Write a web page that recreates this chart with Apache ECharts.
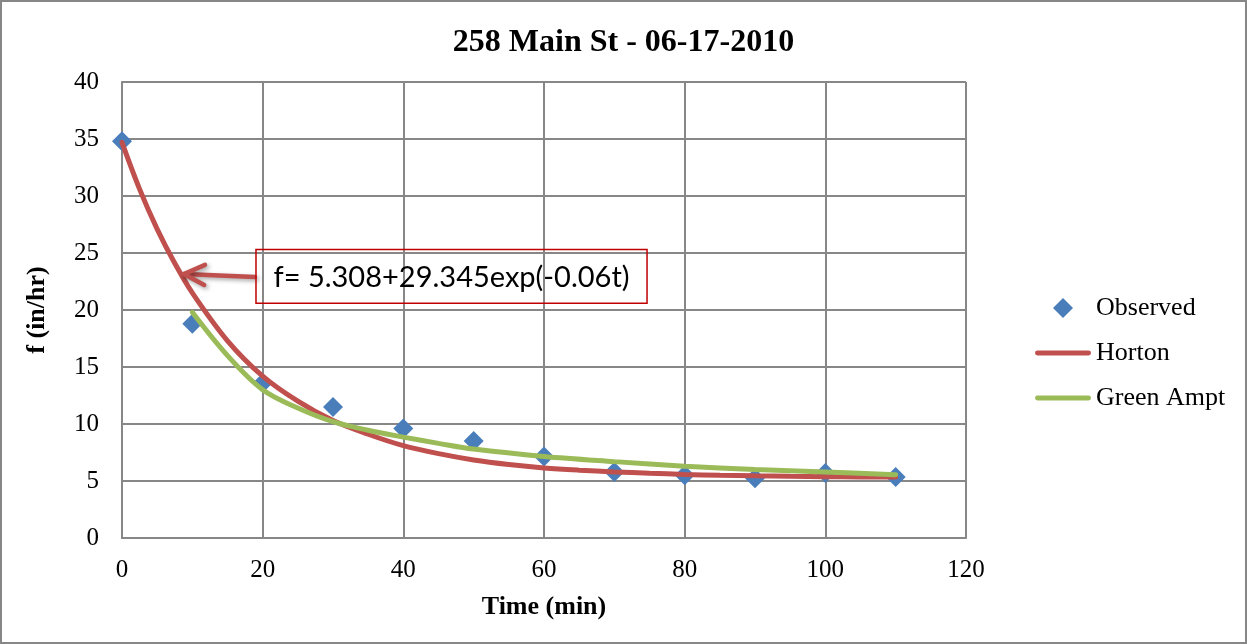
<!DOCTYPE html>
<html>
<head>
<meta charset="utf-8">
<script src="https://cdn.jsdelivr.net/npm/echarts@6/dist/echarts.min.js"></script>
<style>
  html, body { margin: 0; padding: 0; background: #fff; }
  #chart { width: 1247px; height: 644px; }
</style>
</head>
<body>
<div id="chart"></div>
<script>
// ---- data ----
const titleText = '258 Main St - 06-17-2010';
const xName = 'Time (min)';
const yName = 'f (in/hr)';
const seriesNames = ['Observed', 'Horton', 'Green Ampt'];

const observedT = [0, 10, 20, 30, 40, 50, 60, 70, 80, 90, 100, 110];
const observedF = [34.8, 18.8, 13.6, 11.5, 9.6, 8.5, 7.15, 5.8, 5.5, 5.25, 5.7, 5.35];

const hortonT = [0, 2.5, 5, 7.5, 10, 15, 20, 25, 30, 35, 40, 45, 50, 55, 60, 65, 70, 75, 80, 85, 90, 95, 100, 105, 110];
const hortonF = [34.7, 30.6, 27.1, 24.1, 21.5, 17.3, 14.2, 12.0, 10.3, 9.1, 8.1, 7.4, 6.85, 6.45, 6.15, 5.95, 5.8, 5.68, 5.58, 5.5, 5.45, 5.41, 5.38, 5.36, 5.34];

const greenT = [10, 15, 20, 25, 30, 35, 40, 45, 50, 60, 70, 80, 90, 100, 110];
const greenF = [19.8, 16.0, 13.0, 11.4, 10.2, 9.45, 8.85, 8.3, 7.8, 7.15, 6.7, 6.3, 6.0, 5.8, 5.55];

const xMin = 0, xMax = 120, xStep = 20;
const yMin = 0, yMax = 40, yStep = 5;

const annoText = 'f= 5.308+29.345exp(-0.06t)';
const annoTip = [8.8, 23.15];
const annoTail = [18.9, 22.9];
const annoBoxTL = [19.05, 25.3];
const annoBoxBR = [74.65, 20.6];

const zip = (a, b) => a.map((v, i) => [v, b[i]]);

// ---- chart ----
const serif = "'Liberation Serif', 'Times New Roman', serif";
const gridColor = '#878787';
const blue = '#4A7EBB', red = '#C0504D', green = '#9BBB59';
const lineIcon = 'path://M2,0 h52 a2.5,2.5 0 0 1 0,5 h-52 a2.5,2.5 0 0 1 0,-5 z';
const diamondIcon = 'path://M9,0 L18,9 L9,18 L0,9 Z';
const chart = echarts.init(document.getElementById('chart'), null, { renderer: 'canvas' });

const option = {
  backgroundColor: '#ffffff',
  animation: false,
  title: {
    text: titleText,
    left: 'center',
    top: 22,
    textStyle: { fontFamily: serif, fontWeight: 'bold', fontSize: 32, color: '#000' }
  },
  grid: { left: 122, top: 82, width: 844, height: 456, containLabel: false },
  legend: {
    orient: 'vertical',
    left: 1030,
    top: 290,
    itemWidth: 56,
    itemHeight: 20,
    itemGap: 19,
    textStyle: { fontFamily: serif, fontSize: 26, color: '#000' },
    data: [
      { name: seriesNames[0], icon: diamondIcon, itemStyle: { color: blue } },
      { name: seriesNames[1], icon: lineIcon, itemStyle: { color: red } },
      { name: seriesNames[2], icon: lineIcon, itemStyle: { color: green } }
    ]
  },
  xAxis: {
    type: 'value',
    min: xMin, max: xMax, interval: xStep,
    name: xName,
    nameLocation: 'middle',
    nameGap: 56,
    nameTextStyle: { fontFamily: serif, fontWeight: 'bold', fontSize: 26, color: '#000' },
    axisLine: { show: true, lineStyle: { color: gridColor, width: 2 } },
    axisTick: { show: false },
    axisLabel: { fontFamily: serif, fontSize: 25, color: '#000', margin: 20 },
    splitLine: { show: true, lineStyle: { color: gridColor, width: 2 } }
  },
  yAxis: {
    type: 'value',
    min: yMin, max: yMax, interval: yStep,
    name: yName,
    nameLocation: 'middle',
    nameGap: 72,
    nameRotate: 90,
    nameTextStyle: { fontFamily: serif, fontWeight: 'bold', fontSize: 26, color: '#000' },
    axisLine: { show: true, lineStyle: { color: gridColor, width: 2 } },
    axisTick: { show: false },
    axisLabel: { fontFamily: serif, fontSize: 25, color: '#000', margin: 23 },
    splitLine: { show: true, lineStyle: { color: gridColor, width: 2 } }
  },
  series: [
    {
      name: seriesNames[0],
      type: 'scatter',
      symbol: 'diamond',
      symbolSize: 20,
      itemStyle: { color: blue, opacity: 1 },
      data: zip(observedT, observedF)
    },
    {
      name: seriesNames[1],
      type: 'line',
      smooth: 0.35,
      symbol: 'none',
      showSymbol: false,
      lineStyle: { color: red, width: 5, cap: 'round' },
      itemStyle: { color: red },
      data: zip(hortonT, hortonF)
    },
    {
      name: seriesNames[2],
      type: 'line',
      smooth: 0.35,
      symbol: 'none',
      showSymbol: false,
      lineStyle: { color: green, width: 5, cap: 'round' },
      itemStyle: { color: green },
      data: zip(greenT, greenF)
    }
  ]
};
chart.setOption(option);

// ---- annotation (anchored in data coordinates) ----
const px = (p) => chart.convertToPixel({ gridIndex: 0 }, p);
const tip = px(annoTip), tail = px(annoTail);
const tl = px(annoBoxTL), br = px(annoBoxBR);
const ang = Math.atan2(tail[1] - tip[1], tail[0] - tip[0]);
const armLen = 23, armAng = 0.45;
const armA = [tip[0] + armLen * Math.cos(ang + armAng), tip[1] + armLen * Math.sin(ang + armAng)];
const armB = [tip[0] + armLen * Math.cos(ang - armAng), tip[1] + armLen * Math.sin(ang - armAng)];
const arrowStyle = {
  stroke: red, lineWidth: 4.5, fill: null, lineCap: 'round', lineJoin: 'round',
  shadowBlur: 4, shadowColor: 'rgba(0,0,0,0.35)', shadowOffsetX: 2, shadowOffsetY: 2
};

chart.setOption({
  graphic: [
    {
      type: 'rect', silent: true, z: 0,
      shape: { x: 1, y: 1, width: 1245, height: 642 },
      style: { fill: null, stroke: gridColor, lineWidth: 2 }
    },
    {
      type: 'polyline', silent: true, z: 100,
      shape: { points: [tail, tip] }, style: arrowStyle
    },
    {
      type: 'polyline', silent: true, z: 100,
      shape: { points: [armA, tip, armB] }, style: arrowStyle
    },
    {
      type: 'rect', silent: true, z: 100,
      shape: { x: tl[0], y: tl[1], width: br[0] - tl[0], height: br[1] - tl[1] },
      style: { fill: null, stroke: '#C00000', lineWidth: 1.5 }
    },
    {
      type: 'text', silent: true, z: 101,
      x: (tl[0] + br[0]) / 2, y: (tl[1] + br[1]) / 2 + 1,
      style: {
        text: annoText, fill: '#000',
        font: "29px Lato, 'Noto Sans', sans-serif",
        align: 'center', verticalAlign: 'middle'
      }
    }
  ]
});
</script>
</body>
</html>
